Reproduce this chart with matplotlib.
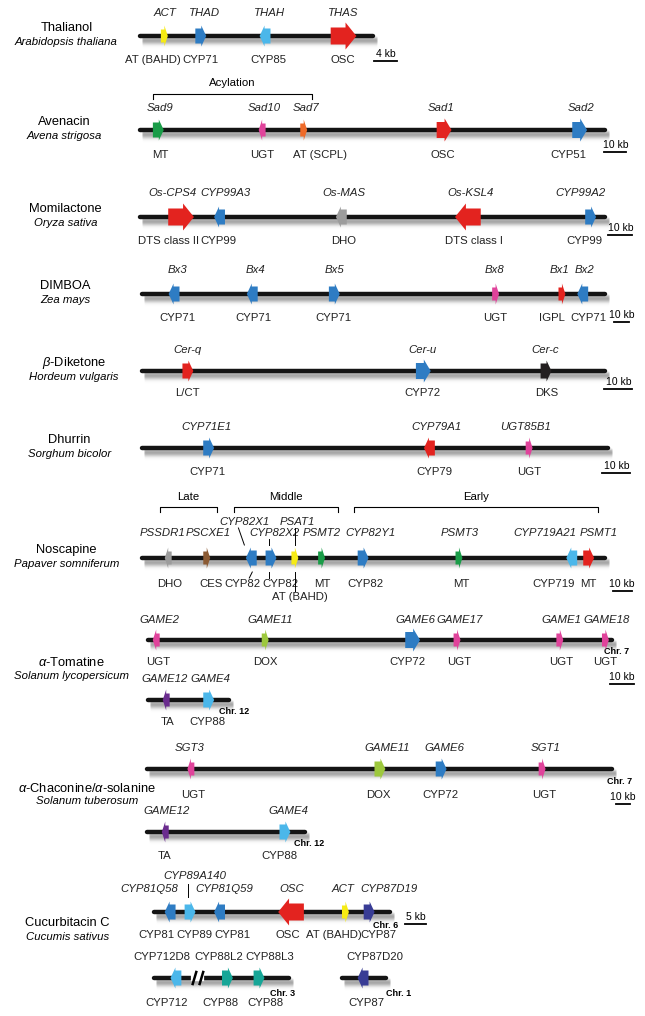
import numpy as np
import matplotlib.pyplot as plt
from matplotlib.patches import Polygon

plt.rcParams['font.family'] = ['Liberation Sans', 'DejaVu Sans']
plt.rcParams['mathtext.fontset'] = 'custom'
plt.rcParams['mathtext.rm'] = 'Liberation Sans'
plt.rcParams['mathtext.it'] = 'Liberation Sans:italic'

# ---- pathways ----
pathways = ['Thalianol', 'Avenacin', 'Momilactone', 'DIMBOA', r'$\beta$-Diketone',
            'Dhurrin', 'Noscapine', r'$\alpha$-Tomatine',
            r'$\alpha$-Chaconine/$\alpha$-solanine', 'Cucurbitacin C']
species = ['Arabidopsis thaliana', 'Avena strigosa', 'Oryza sativa', 'Zea mays',
           'Hordeum vulgaris', 'Sorghum bicolor', 'Papaver somniferum',
           'Solanum lycopersicum', 'Solanum tuberosum', 'Cucumis sativus']
scale_kb = [4, 10, 10, 10, 10, 10, 10, 10, 10, 5]

# ---- gene clusters (positions in kb from the left end of the drawn region) ----
thal_genes = ['ACT', 'THAD', 'THAH', 'THAS']
thal_funcs = ['AT (BAHD)', 'CYP71', 'CYP85', 'OSC']
thal_kb = [4.2, 10.6, 21.9, 35.7]
thal_dirs = [1, 1, -1, 1]
thal_cols = ['yellow', 'blue', 'sky', 'red']
thal_span = 40.9

aven_genes = ['Sad9', 'Sad10', 'Sad7', 'Sad1', 'Sad2']
aven_funcs = ['MT', 'UGT', 'AT (SCPL)', 'OSC', 'CYP51']
aven_kb = [8.2, 55.9, 75.0, 139.5, 201.8]
aven_dirs = [1, -1, 1, 1, 1]
aven_cols = ['green', 'pink', 'orange', 'red', 'blue']
aven_span = 213.6
aven_groups = ['Acylation']
aven_group_kb = [(5.9, 78.6)]

momi_genes = ['Os-CPS4', 'CYP99A3', 'Os-MAS', 'Os-KSL4', 'CYP99A2']
momi_funcs = ['DTS class II', 'CYP99', 'DHO', 'DTS class I', 'CYP99']
momi_kb = [17.1, 33.3, 84.6, 137.9, 189.6]
momi_dirs = [1, -1, -1, -1, 1]
momi_cols = ['red', 'blue', 'grey', 'red', 'blue']
momi_span = 195.8

dimb_genes = ['Bx3', 'Bx4', 'Bx5', 'Bx8', 'Bx1', 'Bx2']
dimb_funcs = ['CYP71', 'CYP71', 'CYP71', 'UGT', 'IGPL', 'CYP71']
dimb_kb = [21.3, 74.0, 129.3, 238.0, 282.7, 296.7]
dimb_dirs = [-1, -1, 1, 1, 1, -1]
dimb_cols = ['blue', 'blue', 'blue', 'pink', 'red', 'blue']
dimb_span = 312.0

dike_genes = ['Cer-q', 'Cer-u', 'Cer-c']
dike_funcs = ['L/CT', 'CYP72', 'DKS']
dike_kb = [16.4, 101.4, 145.7]
dike_dirs = [1, 1, 1]
dike_cols = ['red', 'blue', 'black']
dike_span = 167.1

dhur_genes = ['CYP71E1', 'CYP79A1', 'UGT85B1']
dhur_funcs = ['CYP71', 'CYP79', 'UGT']
dhur_kb = [23.9, 103.6, 139.6]
dhur_dirs = [1, -1, 1]
dhur_cols = ['blue', 'red', 'pink']
dhur_span = 168.2

nosc_genes = ['PSSDR1', 'PSCXE1', 'CYP82X1', 'CYP82X2', 'PSAT1', 'PSMT2',
              'CYP82Y1', 'PSMT3', 'CYP719A21', 'PSMT1']
nosc_funcs = ['DHO', 'CES', 'CYP82', 'CYP82', 'AT (BAHD)', 'MT',
              'CYP82', 'MT', 'CYP719', 'MT']
nosc_kb = [13.7, 34.2, 57.9, 68.4, 81.1, 95.3, 117.4, 168.4, 228.4, 237.4]
nosc_dirs = [-1, 1, -1, 1, 1, 1, 1, 1, -1, 1]
nosc_cols = ['grey', 'brown', 'blue', 'blue', 'yellow', 'green',
             'blue', 'green', 'sky', 'red']
nosc_span = 246.3
nosc_groups = ['Late', 'Middle', 'Early']
nosc_group_kb = [(9.5, 39.5), (48.9, 104.2), (112.6, 242.1)]

toma7_genes = ['GAME2', 'GAME11', 'GAME6', 'GAME17', 'GAME1', 'GAME18']
toma7_funcs = ['UGT', 'DOX', 'CYP72', 'UGT', 'UGT', 'UGT']
toma7_kb = [3.3, 49.2, 111.3, 130.0, 173.3, 192.5]
toma7_dirs = [-1, 1, 1, 1, 1, 1]
toma7_cols = ['pink', 'lime', 'blue', 'pink', 'pink', 'pink']
toma7_span = 195.4

toma12_genes = ['GAME12', 'GAME4']
toma12_funcs = ['TA', 'CYP88']
toma12_kb = [7.5, 25.4]
toma12_dirs = [-1, 1]
toma12_cols = ['purple', 'sky']
toma12_span = 33.8

chac7_genes = ['SGT3', 'GAME11', 'GAME6', 'SGT1']
chac7_funcs = ['UGT', 'DOX', 'CYP72', 'UGT']
chac7_kb = [31.4, 167.9, 212.1, 285.0]
chac7_dirs = [-1, 1, 1, 1]
chac7_cols = ['pink', 'lime', 'blue', 'pink']
chac7_span = 335.7

chac12_genes = ['GAME12', 'GAME4']
chac12_funcs = ['TA', 'CYP88']
chac12_kb = [12.9, 99.3]
chac12_dirs = [-1, 1]
chac12_cols = ['purple', 'sky']
chac12_span = 113.6

cucu6_genes = ['CYP81Q58', 'CYP89A140', 'CYP81Q59', 'OSC', 'ACT', 'CYP87D19']
cucu6_funcs = ['CYP81', 'CYP89', 'CYP81', 'OSC', 'AT (BAHD)', 'CYP87']
cucu6_kb = [3.8, 8.6, 15.7, 32.9, 46.0, 51.7]
cucu6_dirs = [-1, 1, -1, -1, 1, 1]
cucu6_cols = ['blue', 'sky', 'blue', 'red', 'yellow', 'navy']
cucu6_span = 56.7

cucu3_genes = ['CYP712D8', 'CYP88L2', 'CYP88L3']
cucu3_funcs = ['CYP712', 'CYP88', 'CYP88']
cucu3_kb = [5.2, 17.6, 25.2]
cucu3_dirs = [-1, 1, 1]
cucu3_cols = ['sky', 'teal', 'teal']
cucu3_span = 32.4
cucu3_break_kb = 10.5

cucu1_genes = ['CYP87D20']
cucu1_funcs = ['CYP87']
cucu1_kb = [5.0]
cucu1_dirs = [-1]
cucu1_cols = ['navy']
cucu1_span = 10.5

# ---- styles / layout ----
COLORS = {'red': '#e3231f', 'blue': '#2e7cc3', 'sky': '#4bb7ea', 'yellow': '#f6eb14',
          'green': '#1a9c48', 'pink': '#e0439b', 'orange': '#ef6a28', 'grey': '#9c9c9c',
          'black': '#231f20', 'brown': '#8b5a33', 'lime': '#9dc83d', 'purple': '#6a2c8e',
          'teal': '#17a697', 'navy': '#383c95'}
# width, head length, body half-height, head half-height (px)
SIZES = {'n': (7, 3.5, 6.5, 10.5), 's': (11, 5, 7.5, 10.5), 'm': (15, 7, 8, 11.5), 'l': (26, 11, 8.5, 13.5)}
FS = 8.2

LAYOUT = {
    'thal': dict(y=36, x0=142, ppk=5.75, size='nssl', tdx=[1, 4, 5, 0], bdx=[-12, 0, 3, -1], tdy=-23, bdy=24),
    'aven': dict(y=130, x0=142, ppk=2.2, size='snnmm', tdx=[2, 2, 2, -3, 1], bdx=[2, 0, 16, -1, -11], tdy=-22, bdy=25),
    'momi': dict(y=217, x0=142, ppk=2.4, size='lssls', tdx=[-9, 6, 3, 3, -10], bdx=[-13, -1, 2, 6, -6], tdy=-24, bdy=24),
    'dimb': dict(y=294, x0=144, ppk=1.5, size='sssnns', tdx=[4, 3, 0, -1, -2, 2], bdx=[3, 1, -1, 0, -10, 6], tdy=-24, bdy=24),
    'dike': dict(y=371, x0=144, ppk=2.8, size='sms', tdx=[0, -1, -1], bdx=[0, -1, 1], tdy=-21, bdy=22),
    'dhur': dict(y=448, x0=144, ppk=2.8, size='ssn', tdx=[-2, 7, -4], bdx=[-1, 5, 0], tdy=-21, bdy=24),
    'nosc': dict(y=558, x0=144, ppk=1.9, size='nnssnnsnss',
                 tdx=[-6, 1, -7, 4, 2, 0, 7, 1, -27, 10], bdx=[1, 4, -9, 10, 5, 1, 2, 2, -18, 0],
                 tdy=-25, bdy=26, tdy_i={2: -36, 4: -36}, bdy_i={4: 39},
                 links=[(2, -7, -13, -13, -30), (2, 1, 14, -2, 20), (3, -2, -13, -2, -19),
                        (3, -2, 14, -2, 20), (4, 0, -13, 0, -30), (4, 0, 14, 0, 33)]),
    'toma7': dict(y=640, x0=150, ppk=2.4, size='nnmnnn', tdx=[3, 5, 3, 3, 2, 1], bdx=[2, 0, -5, 2, 1, 0],
                  tdy=-20, bdy=22, chr=('Chr. 7', -8, 12)),
    'toma12': dict(y=700, x0=150, ppk=2.4, size='ns', tdx=[-2, 2], bdx=[1, -1], tdy=-21, bdy=22,
                   chr=('Chr. 12', -10, 12)),
    'chac7': dict(y=769, x0=149, ppk=1.4, size='nssn', tdx=[-1, 7, 3, 4], bdx=[2, -2, -1, 2],
                  tdy=-21, bdy=26, chr=('Chr. 7', -5, 13)),
    'chac12': dict(y=832, x0=149, ppk=1.4, size='ns', tdx=[1, 4], bdx=[-1, -6], tdy=-21, bdy=24,
                   chr=('Chr. 12', -11, 11)),
    'cucu6': dict(y=912, x0=156, ppk=4.2, size='ssslns', tdx=[-21, 5, 5, 1, -2, 20],
                  bdx=[-14, 4, 13, -3, -12, 9], tdy=-23, bdy=23, tdy_i={1: -36},
                  links=[(1, -2, -15, -2, -28)], chr=('Chr. 6', -17, 13)),
    'cucu3': dict(y=978, x0=156, ppk=4.2, size='sss', tdx=[-14, -9, 11], bdx=[-9, -7, 6], tdy=-21, bdy=25,
                  italic=False, chr=('Chr. 3', -19, 15)),
    'cucu1': dict(y=978, x0=346, ppk=4.2, size='s', tdx=[12], bdx=[3], tdy=-21, bdy=25,
                  italic=False, chr=('Chr. 1', 0, 15)),
}
TITLE_POS = [(67, 28, 42), (65, 122, 136), (66, 209, 223), (66, 286, 300), (75, 363, 377),
             (70, 440, 454), (67, 550, 564), (72, 662, 676), (88, 788, 801), (68, 923, 937)]
SCALE_TRACK = ['thal', 'aven', 'momi', 'dimb', 'dike', 'dhur', 'nosc', 'toma7', 'chac7', 'cucu6']
SCALE_POS = [(390, 61), (622, 152), (627, 235), (628, 322), (625, 389), (623, 473),
             (629, 591), (629, 684), (630, 804), (420, 924)]

fig = plt.figure(figsize=(6.45, 10.16), dpi=100)
ax = fig.add_axes([0, 0, 1, 1])
ax.set_xlim(0, 652)
ax.set_ylim(1016, 0)
ax.axis('off')


def arrow(xc, y, d, size, color):
    w, hl, hb, hh = SIZES[size]
    tail, tip = xc - d * w / 2, xc + d * w / 2
    neck = tip - d * hl
    pts = [(tail, y - hb), (neck, y - hb), (neck, y - hh), (tip, y),
           (neck, y + hh), (neck, y + hb), (tail, y + hb)]
    ax.add_patch(Polygon(pts, closed=True, fc=color, ec='none', zorder=4))


def chromosome(x1, x2, y):
    # soft drop shadow under the chromosome line
    for k in range(1, 13):
        a = 0.16 * np.exp(-((k - 4) / 3.5) ** 2)
        ax.plot([x1 + 3, x2 + 3], [y + k, y + k], color='black', alpha=a, lw=1.8,
                solid_capstyle='round', zorder=1)
    ax.plot([x1, x2], [y, y], color='#141414', lw=3.2, solid_capstyle='round', zorder=2)


def draw_track(name, genes, funcs, kb, dirs, cols, span):
    lay = LAYOUT[name]
    x0, ppk, y = lay['x0'], lay['ppk'], lay['y']
    xs = x0 + np.asarray(kb) * ppk
    x_end = x0 + span * ppk
    chromosome(x0, x_end, y)
    italic = lay.get('italic', True)
    for i, (g, f, x, d, c) in enumerate(zip(genes, funcs, xs, dirs, cols)):
        arrow(x, y, d, lay['size'][i], COLORS[c])
        ty = y + lay.get('tdy_i', {}).get(i, lay['tdy'])
        by = y + lay.get('bdy_i', {}).get(i, lay['bdy'])
        ax.text(x + lay['tdx'][i], ty, g, fontsize=FS, ha='center', va='center',
                style='italic' if italic else 'normal', color='#222222')
        ax.text(x + lay['bdx'][i], by, f, fontsize=FS, ha='center', va='center', color='#222222')
    for i, dx1, dy1, dx2, dy2 in lay.get('links', []):
        ax.plot([xs[i] + dx1, xs[i] + dx2], [y + dy1, y + dy2], color='black', lw=0.7, zorder=3)
    if 'chr' in lay:
        label, dx, dy = lay['chr']
        ax.text(x_end + dx, y + dy, label, fontsize=6.5, fontweight='bold', ha='left', va='center')
    return x0, ppk, y


def brackets(name, groups, group_kb, y_br, y_txt):
    lay = LAYOUT[name]
    for g, (a, b) in zip(groups, group_kb):
        xa, xb = lay['x0'] + a * lay['ppk'], lay['x0'] + b * lay['ppk']
        ax.plot([xa, xa, xb, xb], [y_br + 5, y_br, y_br, y_br + 5], color='black', lw=0.8)
        ax.text((xa + xb) / 2, y_txt, g, fontsize=FS, ha='center', va='center')


draw_track('thal', thal_genes, thal_funcs, thal_kb, thal_dirs, thal_cols, thal_span)
draw_track('aven', aven_genes, aven_funcs, aven_kb, aven_dirs, aven_cols, aven_span)
draw_track('momi', momi_genes, momi_funcs, momi_kb, momi_dirs, momi_cols, momi_span)
draw_track('dimb', dimb_genes, dimb_funcs, dimb_kb, dimb_dirs, dimb_cols, dimb_span)
draw_track('dike', dike_genes, dike_funcs, dike_kb, dike_dirs, dike_cols, dike_span)
draw_track('dhur', dhur_genes, dhur_funcs, dhur_kb, dhur_dirs, dhur_cols, dhur_span)
draw_track('nosc', nosc_genes, nosc_funcs, nosc_kb, nosc_dirs, nosc_cols, nosc_span)
draw_track('toma7', toma7_genes, toma7_funcs, toma7_kb, toma7_dirs, toma7_cols, toma7_span)
draw_track('toma12', toma12_genes, toma12_funcs, toma12_kb, toma12_dirs, toma12_cols, toma12_span)
draw_track('chac7', chac7_genes, chac7_funcs, chac7_kb, chac7_dirs, chac7_cols, chac7_span)
draw_track('chac12', chac12_genes, chac12_funcs, chac12_kb, chac12_dirs, chac12_cols, chac12_span)
draw_track('cucu6', cucu6_genes, cucu6_funcs, cucu6_kb, cucu6_dirs, cucu6_cols, cucu6_span)
x0, ppk, y = draw_track('cucu3', cucu3_genes, cucu3_funcs, cucu3_kb, cucu3_dirs, cucu3_cols, cucu3_span)
draw_track('cucu1', cucu1_genes, cucu1_funcs, cucu1_kb, cucu1_dirs, cucu1_cols, cucu1_span)

# break mark on chromosome 3
bx = x0 + cucu3_break_kb * ppk
ax.plot([bx - 3.5, bx + 3.5], [y, y], color='white', lw=4.5, zorder=3)
for c in (bx - 3.5, bx + 3.5):
    ax.plot([c - 1.8, c + 1.8], [y + 6, y - 6], color='black', lw=1.8, zorder=3)

brackets('aven', aven_groups, aven_group_kb, 94, 83)
brackets('nosc', nosc_groups, nosc_group_kb, 507, 497)

for name, sp, (tx, ty, sy) in zip(pathways, species, TITLE_POS):
    ax.text(tx, ty, name, fontsize=9.3, ha='center', va='center')
    ax.text(tx, sy, sp, fontsize=8.2, style='italic', ha='center', va='center')

for kb, tr, (xc, yb) in zip(scale_kb, SCALE_TRACK, SCALE_POS):
    half = kb * LAYOUT[tr]['ppk'] / 2
    ax.plot([xc - half, xc + half], [yb, yb], color='black', lw=1.3)
    ax.text(xc, yb - 2, f'{kb} kb', fontsize=7.5, ha='center', va='bottom')

fig.savefig('out.png', dpi=100, facecolor='white')
